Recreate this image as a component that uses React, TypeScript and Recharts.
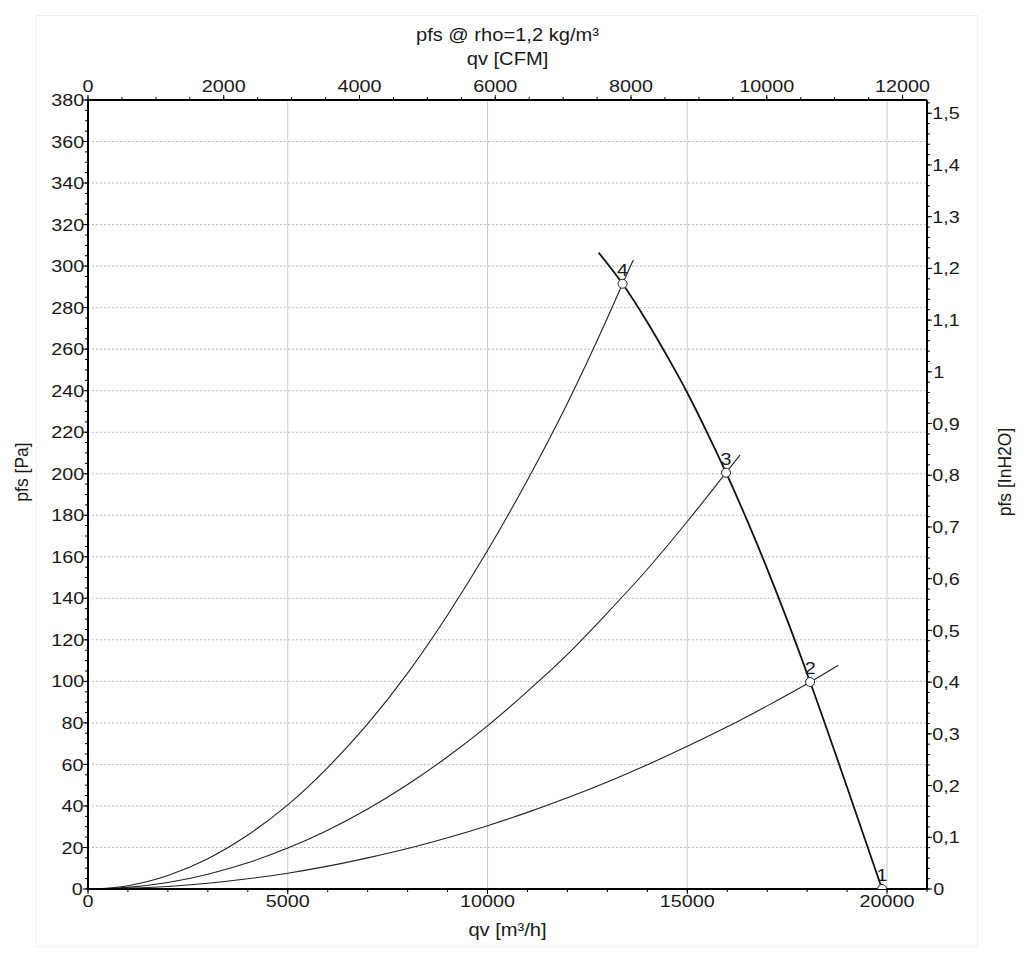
import React from 'react';
import { ComposedChart, Line, Scatter, XAxis, YAxis, CartesianGrid, Label } from 'recharts';

// ---- data ----
// fan curve (pfs over qv)
const fanQ = [12780, 13380, 14000, 14500, 15000, 15500, 15970, 16500, 17000, 17500, 18075, 19000, 19875];
const fanP = [306.5, 291.5, 273, 256.5, 239, 219.7, 200.5, 177.4, 154.2, 129.6, 99.7, 49, 0];

// system curves
const sys4Q = [350, 1000, 2000, 3000, 4000, 5000, 6000, 7000, 8000, 9000, 10000, 11000, 12000, 13000, 13380, 13650];
const sys4P = [0.2, 1.6, 6.5, 14.6, 26, 40.5, 58.5, 79.5, 104, 132, 163, 197, 234, 275, 291.5, 303];

const sys3Q = [350, 1000, 2000, 3000, 4000, 5000, 6000, 7000, 8000, 9000, 10000, 11000, 12000, 13000, 14000, 15000, 15970, 16320];
const sys3P = [0.1, 0.8, 3.1, 7.1, 12.6, 19.7, 28.3, 38.5, 50.3, 63.7, 78.6, 95.2, 113, 133, 154, 177, 200.5, 209];

const sys2Q = [350, 1000, 2000, 3000, 4000, 5000, 6000, 7000, 8000, 9000, 10000, 11000, 12000, 13000, 14000, 15000, 16000, 17000, 18075, 18780];
const sys2P = [0.05, 0.3, 1.2, 2.75, 4.9, 7.6, 11, 15, 19.5, 24.7, 30.5, 36.9, 43.9, 51.5, 59.8, 68.7, 78.1, 88.2, 99.7, 107.8];

// operating points
const opLabels = ['1', '2', '3', '4'];
const opQ = [19875, 18075, 15970, 13380];
const opP = [0, 99.7, 200.5, 291.5];

// axes / ticks
const paTicks = [0, 20, 40, 60, 80, 100, 120, 140, 160, 180, 200, 220, 240, 260, 280, 300, 320, 340, 360, 380];
const inTicks = [0, 0.1, 0.2, 0.3, 0.4, 0.5, 0.6, 0.7, 0.8, 0.9, 1, 1.1, 1.2, 1.3, 1.4, 1.5];
const m3hTicks = [0, 5000, 10000, 15000, 20000];
const cfmTicks = [0, 2000, 4000, 6000, 8000, 10000, 12000];

const PA_MAX = 380;
const Q_MAX = 21000;
const PA_PER_INH2O = 249.0889;
const M3H_PER_CFM = 1.69901;

const steps = (max: number, step: number) => {
  const out: number[] = [];
  for (let i = 0; i * step <= max + 1e-9; i++) out.push(+(i * step).toFixed(4));
  return out;
};
const paMinor = steps(PA_MAX, 5);
const inMinor = steps(PA_MAX / PA_PER_INH2O, 0.02);
const m3hMinor = steps(Q_MAX, 1000);
const cfmMinor = steps(12000, 500);

const toPts = (q: number[], p: number[]) => q.map((v, i) => ({ q: v, p: p[i] }));
const fanData = toPts(fanQ, fanP);
const sys4Data = toPts(sys4Q, sys4P);
const sys3Data = toPts(sys3Q, sys3P);
const sys2Data = toPts(sys2Q, sys2P);
const opData = opQ.map((v, i) => ({ q: v, p: opP[i], label: opLabels[i] }));

const fmtComma = (v: number) => String(+v.toFixed(2)).replace('.', ',');
const blank = () => '';

const TXT = '#1a1a1a';
const FS = 17.2;
const FS_TITLE = 17.5;
const tickStyle = { fill: TXT, fontSize: FS };
const axisLineStyle = { stroke: '#000', strokeWidth: 2 };
const tickLineStyle = { stroke: '#000', strokeWidth: 1 };
const minorLine = { stroke: '#000', strokeWidth: 1 };
// minor-tick axes are mirrored (take no space); a negative tick size turns their ticks outward
const MINOR_TICK = -3;

const OpPoint = (props: any) => {
  const { cx, cy, payload } = props;
  return (
    <g>
      <circle cx={cx} cy={cy} r={4.5} fill="#fff" stroke="#222" strokeWidth={1} />
      <text className="sx" x={cx} y={cy - 8} textAnchor="middle" fontSize={FS} fill={TXT}>
        {payload.label}
      </text>
    </g>
  );
};

const css = `
.ch text { font-family: "Liberation Sans", Arial, sans-serif; }
.ch .recharts-cartesian-axis-tick-value, .ch .sx { transform-box: fill-box; transform-origin: center; transform: scaleX(1.15); }
.ch .ax-left .recharts-cartesian-axis-tick-value { transform-origin: right center; }
.ch .ax-right .recharts-cartesian-axis-tick-value { transform-origin: left center; }
`;

export default function App() {
  return (
    <div className="ch" style={{ position: 'absolute', left: 0, top: 0, width: 1024, height: 964, background: '#fff' }}>
      <style>{css}</style>
      <div style={{ position: 'absolute', left: 36, top: 15, width: 940, height: 930, border: '1px solid #efefef' }} />
      <div style={{ position: 'absolute', left: 0, top: 0 }}>
        <ComposedChart width={1024} height={964} data={opData} margin={{ top: 0, right: 0, bottom: 0, left: 0 }}>
          <XAxis xAxisId="m3h" dataKey="q" type="number" domain={[0, Q_MAX]} allowDataOverflow ticks={m3hTicks} interval={0}
            orientation="bottom" height={75} axisLine={axisLineStyle} tickLine={tickLineStyle} tickSize={5} tickMargin={1}
            tick={tickStyle} className="ax-bottom">
            <Label value="qv [m³/h]" content={(p: any) => (
              <text className="sx" x={p.viewBox.x + p.viewBox.width / 2} y={p.viewBox.y + 47} textAnchor="middle" fontSize={FS_TITLE} fill={TXT}>qv [m³/h]</text>
            )} />
          </XAxis>
          <XAxis xAxisId="cfm" dataKey="q" type="number" domain={[0, Q_MAX / M3H_PER_CFM]} allowDataOverflow ticks={cfmTicks} interval={0}
            orientation="top" height={100} axisLine={axisLineStyle} tickLine={tickLineStyle} tickSize={5} tickMargin={3}
            tick={tickStyle} className="ax-top">
            <Label value="pfs @ rho=1,2 kg/m³" content={(p: any) => (
              <g>
                <text className="sx" x={p.viewBox.x + p.viewBox.width / 2} y={p.viewBox.y + 41.5} textAnchor="middle" fontSize={FS_TITLE} fill={TXT}>pfs @ rho=1,2 kg/m³</text>
                <text className="sx" x={p.viewBox.x + p.viewBox.width / 2} y={p.viewBox.y + 65.5} textAnchor="middle" fontSize={FS_TITLE} fill={TXT}>qv [CFM]</text>
              </g>
            )} />
          </XAxis>
          <YAxis yAxisId="pa" dataKey="p" type="number" domain={[0, PA_MAX]} allowDataOverflow ticks={paTicks} interval={0}
            orientation="left" width={88} axisLine={axisLineStyle} tickLine={tickLineStyle} tickSize={5} tickMargin={1}
            tick={tickStyle} className="ax-left">
            <Label value="pfs [Pa]" content={(p: any) => {
              const x = p.viewBox.x + 22;
              const y = p.viewBox.y + p.viewBox.height / 2 - 22.5;
              return (
                <text x={x} y={y} transform={`rotate(-90, ${x}, ${y})`} textAnchor="middle" dominantBaseline="central" fontSize={FS_TITLE} fill={TXT}>pfs [Pa]</text>
              );
            }} />
          </YAxis>
          <YAxis yAxisId="inh2o" type="number" domain={[0, PA_MAX / PA_PER_INH2O]} allowDataOverflow ticks={inTicks} interval={0}
            orientation="right" width={97} axisLine={axisLineStyle} tickLine={tickLineStyle} tickSize={5} tickMargin={2}
            tick={tickStyle} tickFormatter={fmtComma} className="ax-right">
            <Label value="pfs [InH2O]" content={(p: any) => {
              const x = p.viewBox.x + 78;
              const y = p.viewBox.y + p.viewBox.height / 2 - 22.5;
              return (
                <text x={x} y={y} transform={`rotate(-90, ${x}, ${y})`} textAnchor="middle" dominantBaseline="central" fontSize={FS_TITLE} fill={TXT}>pfs [InH2O]</text>
              );
            }} />
          </YAxis>

          {/* minor-tick axes */}
          <XAxis xAxisId="m3hMinor" dataKey="q" type="number" domain={[0, Q_MAX]} allowDataOverflow ticks={m3hMinor} interval={0}
            orientation="bottom" mirror height={10} axisLine={false} tickLine={minorLine} tickSize={MINOR_TICK} tickFormatter={blank} tick={tickStyle} />
          <XAxis xAxisId="cfmMinor" dataKey="q" type="number" domain={[0, Q_MAX / M3H_PER_CFM]} allowDataOverflow ticks={cfmMinor} interval={0}
            orientation="top" mirror height={10} axisLine={false} tickLine={minorLine} tickSize={MINOR_TICK} tickFormatter={blank} tick={tickStyle} />
          <YAxis yAxisId="paMinor" dataKey="p" type="number" domain={[0, PA_MAX]} allowDataOverflow ticks={paMinor} interval={0}
            orientation="left" mirror width={10} axisLine={false} tickLine={minorLine} tickSize={MINOR_TICK} tickFormatter={blank} tick={tickStyle} />
          <YAxis yAxisId="inMinor" type="number" domain={[0, PA_MAX / PA_PER_INH2O]} allowDataOverflow ticks={inMinor} interval={0}
            orientation="right" mirror width={10} axisLine={false} tickLine={minorLine} tickSize={MINOR_TICK} tickFormatter={blank} tick={tickStyle} />

          <CartesianGrid xAxisId="m3h" yAxisId="pa" horizontal={false} stroke="#cccccc" strokeWidth={1} />
          <CartesianGrid xAxisId="m3h" yAxisId="pa" vertical={false} stroke="#bdbdbd" strokeWidth={1} strokeDasharray="2 2" />

          <Line xAxisId="m3h" yAxisId="pa" data={sys2Data} dataKey="p" type="monotone" stroke="#222" strokeWidth={1.1} dot={false} isAnimationActive={false} />
          <Line xAxisId="m3h" yAxisId="pa" data={sys3Data} dataKey="p" type="monotone" stroke="#222" strokeWidth={1.1} dot={false} isAnimationActive={false} />
          <Line xAxisId="m3h" yAxisId="pa" data={sys4Data} dataKey="p" type="monotone" stroke="#222" strokeWidth={1.1} dot={false} isAnimationActive={false} />
          <Line xAxisId="m3h" yAxisId="pa" data={fanData} dataKey="p" type="monotone" stroke="#111" strokeWidth={1.8} dot={false} isAnimationActive={false} />
          <Scatter xAxisId="m3h" yAxisId="pa" data={opData} dataKey="p" shape={OpPoint} isAnimationActive={false} />
        </ComposedChart>
      </div>
    </div>
  );
}
